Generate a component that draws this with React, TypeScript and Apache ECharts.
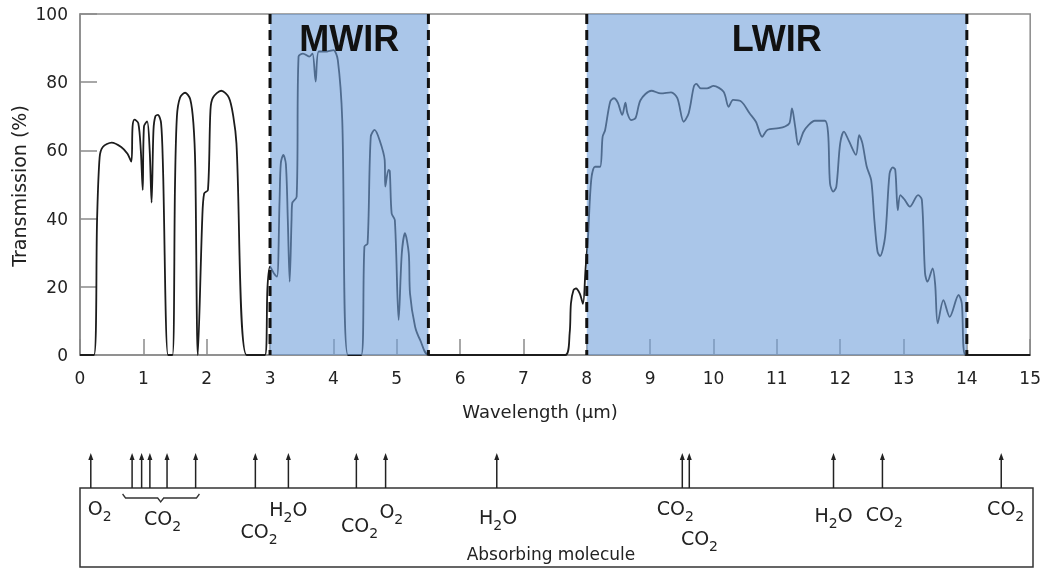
import React, { useEffect, useRef } from "react";
import * as echarts from "echarts";

// ---- Data ----
const wavelength = [
  0, 0.22, 0.27, 0.31, 0.36, 0.5, 0.65, 0.75, 0.81, 0.83, 0.86, 0.92, 0.96, 0.99, 1.01, 1.06, 1.1, 1.13, 1.16, 1.19, 1.23, 1.28, 1.31, 1.39,
  1.46, 1.5, 1.53, 1.58, 1.66, 1.74, 1.79, 1.82, 1.86,
  1.93, 1.96, 2.02, 2.06, 2.1, 2.23, 2.35, 2.42, 2.47, 2.63,
  2.92, 2.96, 3.0, 3.06, 3.11, 3.15, 3.17, 3.21, 3.25, 3.28, 3.31, 3.34, 3.35, 3.42, 3.45, 3.52, 3.62, 3.67, 3.72, 3.77, 3.9, 4.0, 4.07, 4.14, 4.23,
  4.44, 4.49, 4.54, 4.59, 4.65, 4.73, 4.81, 4.82, 4.87, 4.89, 4.92, 4.97, 5.03, 5.08, 5.13, 5.19, 5.21, 5.29, 5.37, 5.51,
  7.66, 7.73, 7.75, 7.79, 7.83, 7.89, 7.94, 7.98, 8.02, 8.07, 8.13, 8.21, 8.25, 8.29, 8.37, 8.43, 8.49, 8.56, 8.61, 8.64, 8.7, 8.77, 8.85,
  9.02, 9.17, 9.33, 9.43, 9.53, 9.61, 9.69, 9.73, 9.8, 9.9, 10.0, 10.16, 10.24, 10.31, 10.44, 10.57, 10.67, 10.77, 10.85,
  11.03, 11.13, 11.2, 11.24, 11.29, 11.34, 11.42, 11.5, 11.6, 11.76, 11.81, 11.84, 11.89, 11.94, 12.0, 12.06, 12.14, 12.25, 12.3, 12.35,
  12.42, 12.49, 12.54, 12.59, 12.63, 12.71, 12.78, 12.83, 12.87, 12.91, 12.95, 13.02, 13.1, 13.23, 13.29, 13.34, 13.38, 13.46, 13.5,
  13.54, 13.63, 13.73, 13.87, 13.92, 13.98, 15,
];
const transmission = [
  0, 0, 40, 58, 61, 62.3, 61, 59, 56.7, 67, 69, 68, 60, 48.4, 67, 68.5, 60, 44.7, 66, 70, 70.4, 68, 55, 0,
  0, 50, 70, 75.5, 76.9, 75, 68, 55, 0,
  40, 47.4, 48.4, 72, 75.5, 77.5, 75.5, 70, 62, 0,
  0, 20, 25.9, 24, 23, 45, 56.2, 58.7, 56, 40, 21.5, 40, 44.5, 46.4, 87.5, 88.4, 87.5, 88.4, 80.2, 89, 89, 89.4, 86.5, 68.9, 0,
  0, 31.8, 32.7, 64, 66, 63, 57.2, 49.4, 54.3, 54, 41.5, 39.6, 10.3, 29.8, 35.7, 29.8, 18, 8.3, 4.4, 0,
  0, 6.4, 15.1, 19, 19.5, 18, 15, 25, 34.7, 51.3, 55.2, 55.2, 64, 66, 74.3, 75.3, 74, 70.4, 74, 71, 68.9, 69.5, 74.8,
  77.5, 76.7, 77, 75.3, 68.4, 71, 78.7, 79.5, 78.2, 78.2, 78.9, 77.2, 72.8, 74.8, 74.3, 70.9, 68.4, 64, 66,
  66.5, 67, 68, 72.3, 67, 61.6, 65.4, 67.4, 68.7, 68.7, 65, 50.3, 47.9, 49.4, 62, 65.5, 62.7, 58.7, 64.5, 62.2,
  55.2, 51.3, 39.6, 30.3, 29, 34.7, 53.2, 55, 54.3, 42.5, 46.9, 45.5, 43.5, 46.9, 45.5, 24, 21.5, 25.4, 20.7,
  9.3, 16.1, 11.2, 17.6, 15.2, 0, 0,
];

const bandStart = [3, 8];
const bandEnd = [5.5, 14];
const bandNames = ["MWIR", "LWIR"];

const arrowLambda = [0.17, 0.82, 0.97, 1.1, 1.37, 1.82, 2.76, 3.28, 4.35, 4.81, 6.56, 9.48, 9.59, 11.86, 12.63, 14.5];

const moleculeNames = ["O2", "CO2", "H2O", "CO2", "CO2", "O2", "H2O", "CO2", "CO2", "H2O", "CO2", "CO2"];
const moleculeLambda = [0.31, 1.3, 3.28, 2.82, 4.4, 4.9, 6.58, 9.37, 9.75, 11.86, 12.66, 14.57];

const bracketRange = [0.67, 1.27, 1.88]; // start, tip, end (wavelength)

// ---- Layout (pixels, not data) ----
const moleculeRowOffset = [20, 30, 21, 43, 37, 23, 29, 20, 50, 27, 26, 20];

const FONT = "DejaVu Sans";
const MAIN_SIZE = 19;
const SUB_SIZE = 14;

let measureCtx: CanvasRenderingContext2D | null = null;
function measure(text: string, size: number): number {
  if (!measureCtx) {
    const c = document.createElement("canvas");
    measureCtx = c.getContext("2d");
  }
  if (!measureCtx) return text.length * size * 0.6;
  measureCtx.font = `${size}px "${FONT}"`;
  return measureCtx.measureText(text).width;
}

function tokens(name: string): { t: string; sub: boolean }[] {
  const out: { t: string; sub: boolean }[] = [];
  const re = /(\d+|\D+)/g;
  let m: RegExpExecArray | null;
  while ((m = re.exec(name))) out.push({ t: m[0], sub: /\d/.test(m[0]) });
  return out;
}

export default function App() {
  const ref = useRef<HTMLDivElement>(null);

  useEffect(() => {
    if (!ref.current) return;
    const chart = echarts.init(ref.current, undefined, { renderer: "svg" });

    const axisGray = "#8a8a8a";

    const option: any = {
      animation: false,
      grid: [
        { left: 80, right: 11, top: 14, bottom: 213, show: true, borderColor: axisGray, borderWidth: 1.5 },
        { left: 80, right: 11, top: 488, bottom: 1, show: true, borderColor: "#333", borderWidth: 1.5 },
      ],
      xAxis: [
        {
          type: "value",
          gridIndex: 0,
          min: 0,
          max: 15,
          interval: 1,
          axisLine: { show: true, lineStyle: { color: axisGray, width: 1.5 } },
          axisTick: { show: true, inside: true, length: 16, lineStyle: { color: axisGray, width: 1.5 } },
          axisLabel: { fontSize: 17, fontFamily: FONT, color: "#222", margin: 14 },
          splitLine: { show: false },
        },
        { type: "value", gridIndex: 1, min: 0, max: 15, show: false },
      ],
      yAxis: [
        {
          type: "value",
          gridIndex: 0,
          min: 0,
          max: 100,
          interval: 20,
          axisLine: { show: true, lineStyle: { color: axisGray, width: 1.5 } },
          axisTick: { show: true, inside: true, length: 17, lineStyle: { color: axisGray, width: 1.5 } },
          axisLabel: { fontSize: 17, fontFamily: FONT, color: "#222", margin: 12 },
          splitLine: { show: false },
        },
        { type: "value", gridIndex: 1, min: 0, max: 1, show: false },
      ],
      series: [
        {
          type: "line",
          xAxisIndex: 0,
          yAxisIndex: 0,
          data: wavelength.map((w, i) => [w, transmission[i]]),
          showSymbol: false,
          smooth: 0.3,
          lineStyle: { color: "#1c1c1c", width: 1.8 },
          z: 2,
        },
        {
          type: "custom",
          xAxisIndex: 0,
          yAxisIndex: 0,
          z: 3,
          clip: false,
          data: bandStart.map((s, i) => [s, bandEnd[i]]),
          renderItem: (params: any, api: any) => {
            const s = api.value(0);
            const e = api.value(1);
            const p0 = api.coord([s, 100]);
            const p1 = api.coord([e, 0]);
            const mid = api.coord([(s + e) / 2, 100]);
            return {
              type: "group",
              children: [
                {
                  type: "rect",
                  shape: { x: p0[0], y: p0[1], width: p1[0] - p0[0], height: p1[1] - p0[1] },
                  style: { fill: "rgba(113,160,219,0.6)" },
                },
                {
                  type: "line",
                  shape: { x1: p0[0], y1: p0[1], x2: p0[0], y2: p1[1] },
                  style: { stroke: "#111", lineWidth: 3, lineDash: [10, 6] },
                },
                {
                  type: "line",
                  shape: { x1: p1[0], y1: p0[1], x2: p1[0], y2: p1[1] },
                  style: { stroke: "#111", lineWidth: 3, lineDash: [10, 6] },
                },
                {
                  type: "text",
                  x: mid[0],
                  y: mid[1] + 24,
                  style: {
                    text: bandNames[params.dataIndex],
                    fontSize: 36,
                    fontWeight: "bold",
                    fontFamily: "Liberation Sans",
                    fill: "#111",
                    align: "center",
                    verticalAlign: "middle",
                  },
                },
              ],
            };
          },
        },
        {
          type: "custom",
          xAxisIndex: 1,
          yAxisIndex: 1,
          clip: false,
          data: arrowLambda.map((l) => [l, 0]),
          renderItem: (params: any, api: any) => {
            const x = api.coord([api.value(0), 0])[0];
            const top = params.coordSys.y;
            return {
              type: "group",
              children: [
                {
                  type: "line",
                  shape: { x1: x, y1: top, x2: x, y2: top - 30 },
                  style: { stroke: "#222", lineWidth: 1.5 },
                },
                {
                  type: "polygon",
                  shape: { points: [[x, top - 35], [x - 2.5, top - 28], [x + 2.5, top - 28]] },
                  style: { fill: "#222" },
                },
              ],
            };
          },
        },
        {
          type: "custom",
          xAxisIndex: 1,
          yAxisIndex: 1,
          clip: false,
          data: [[bracketRange[0], 0, bracketRange[1], bracketRange[2]]],
          renderItem: (params: any, api: any) => {
            const xl = api.coord([api.value(0), 0])[0];
            const xm = api.coord([api.value(2), 0])[0];
            const xr = api.coord([api.value(3), 0])[0];
            const top = params.coordSys.y;
            return {
              type: "polyline",
              shape: {
                points: [
                  [xl, top + 6],
                  [xl + 3, top + 10],
                  [xm - 3, top + 10],
                  [xm, top + 14],
                  [xm + 3, top + 10],
                  [xr - 3, top + 10],
                  [xr, top + 6],
                ],
              },
              style: { stroke: "#333", lineWidth: 1.3, fill: "none" },
            };
          },
        },
        {
          type: "custom",
          xAxisIndex: 1,
          yAxisIndex: 1,
          clip: false,
          data: moleculeLambda.map((l) => [l, 0]),
          renderItem: (params: any, api: any) => {
            const idx = params.dataIndex;
            const cx = api.coord([api.value(0), 0])[0];
            const top = params.coordSys.y;
            const yc = top + moleculeRowOffset[idx];
            const toks = tokens(moleculeNames[idx]);
            const widths = toks.map((t) => measure(t.t, t.sub ? SUB_SIZE : MAIN_SIZE));
            const total = widths.reduce((a, b) => a + b, 0);
            let x = cx - total / 2;
            const children: any[] = [];
            toks.forEach((t, i) => {
              children.push({
                type: "text",
                x,
                y: t.sub ? yc + 8 : yc,
                style: {
                  text: t.t,
                  fontSize: t.sub ? SUB_SIZE : MAIN_SIZE,
                  fontFamily: FONT,
                  fill: "#222",
                  align: "left",
                  verticalAlign: "middle",
                },
              });
              x += widths[i];
            });
            return { type: "group", children };
          },
        },
      ],
      graphic: [
        {
          type: "text",
          x: 540,
          y: 411,
          style: { text: "Wavelength (μm)", fontSize: 18, fontFamily: FONT, fill: "#222", align: "center", verticalAlign: "middle" },
        },
        {
          type: "text",
          x: 19,
          y: 186,
          rotation: Math.PI / 2,
          style: { text: "Transmission (%)", fontSize: 19, fontFamily: FONT, fill: "#222", align: "center", verticalAlign: "middle" },
        },
        {
          type: "text",
          x: 551,
          y: 554,
          style: { text: "Absorbing molecule", fontSize: 17, fontFamily: FONT, fill: "#222", align: "center", verticalAlign: "middle" },
        },
      ],
    };

    chart.setOption(option);
    return () => chart.dispose();
  }, []);

  return <div ref={ref} style={{ position: "fixed", left: 0, top: 0, width: 1044, height: 568 }} />;
}
